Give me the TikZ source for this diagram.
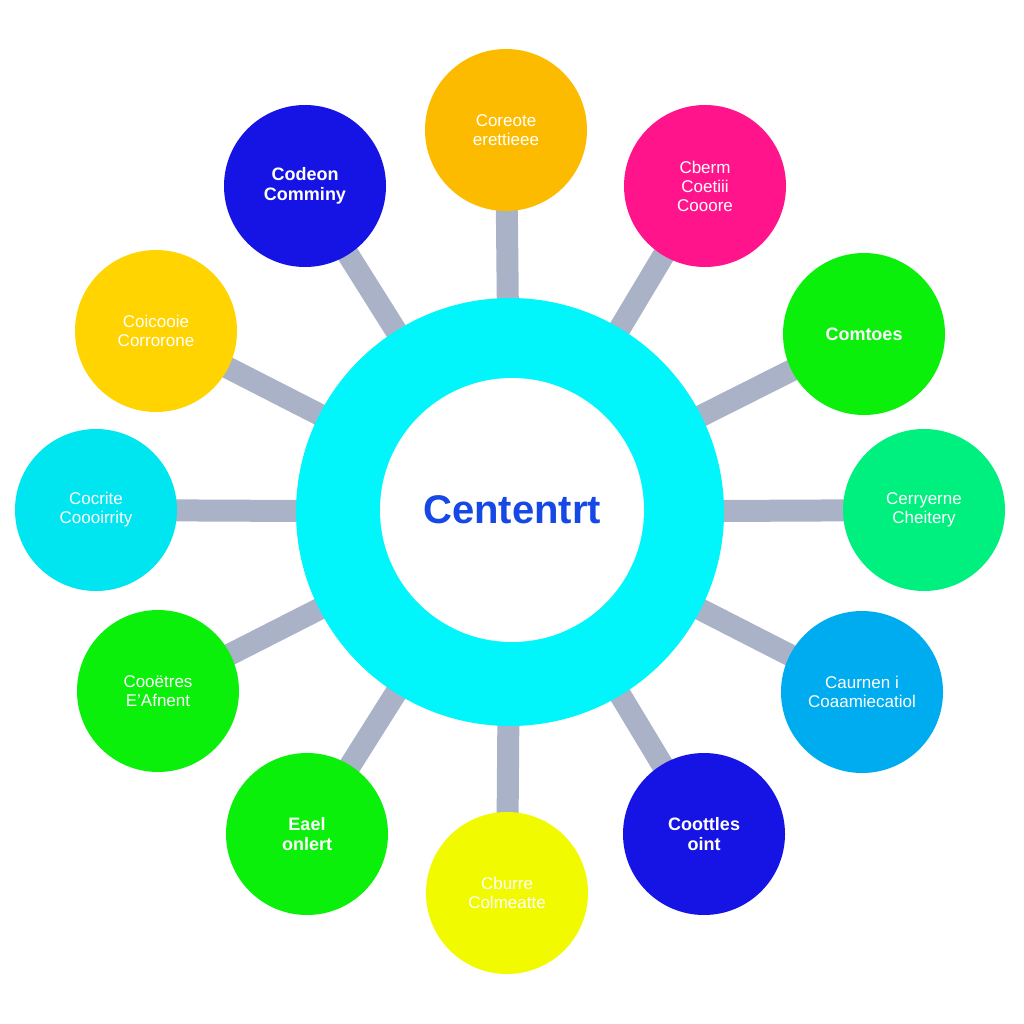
\documentclass[tikz,border=0pt]{standalone}
\usepackage{fontspec}
\setmainfont{Liberation Sans}
\usetikzlibrary{backgrounds}
\definecolor{conn}{RGB}{170,178,200}
\definecolor{ringc}{RGB}{0,246,250}
\definecolor{ctext}{RGB}{22,72,230}
\definecolor{corange}{RGB}{253,187,0}
\definecolor{cblue}{RGB}{22,20,228}
\definecolor{cpink}{RGB}{255,20,140}
\definecolor{cyellow}{RGB}{255,212,0}
\definecolor{cgreen}{RGB}{10,240,10}
\definecolor{ccyan}{RGB}{0,230,240}
\definecolor{cmint}{RGB}{0,240,128}
\definecolor{cazure}{RGB}{0,172,240}
\definecolor{clemon}{RGB}{242,250,0}
\tikzset{
  sat/.style={circle, fill=#1, minimum size=162pt, inner sep=0pt, text=white, align=center, font=\fontsize{17}{19}\selectfont},
  satb/.style={sat=#1, font=\fontsize{18}{20}\selectfont\bfseries},
  link/.style={draw=conn, line width=22pt}
}
\begin{document}
\begin{tikzpicture}[x=1pt,y=-1pt]
\useasboundingbox (0,0) rectangle (1024,1024);
\node[circle, fill=ringc, minimum size=428pt, inner sep=0pt] (c) at (510,512) {};
\node[circle, fill=white, minimum size=264pt, inner sep=0pt, text=ctext, font=\fontsize{40}{44}\selectfont\bfseries] (ci) at (512,510) {Cententrt};
\node[sat=corange] (s1) at (506,130) {Coreote\\erettieee};
\node[satb=cblue] (s2) at (305,186) {Codeon\\Comminy};
\node[sat=cpink] (s3) at (705,186) {Cberm\\Coetiii\\Cooore};
\node[sat=cyellow] (s4) at (156,331) {Coicooie\\Corrorone};
\node[satb=cgreen] (s5) at (864,334) {Comtoes};
\node[sat=ccyan] (s6) at (96,510) {Cocrite\\Coooirrity};
\node[sat=cmint] (s7) at (924,510) {Cerryerne\\Cheitery};
\node[sat=cgreen] (s8) at (158,691) {Cooëtres\\E'Afnent};
\node[sat=cazure] (s9) at (862,692) {Caurnen i\\Coaamiecatiol};
\node[satb=cgreen] (s10) at (307,834) {Eael\\onlert};
\node[satb=cblue] (s11) at (704,834) {Coottles\\oint};
\node[sat=clemon] (s12) at (507,893) {Cburre\\Colmeatte};
\begin{pgfonlayer}{background}
\fill[white] (0,0) rectangle (1024,1024);
\foreach \s in {s1,s2,s3,s4,s5,s6,s7,s8,s9,s10,s11,s12}
  \draw[link] (c.center) -- (\s.center);
\end{pgfonlayer}
\end{tikzpicture}
\end{document}
